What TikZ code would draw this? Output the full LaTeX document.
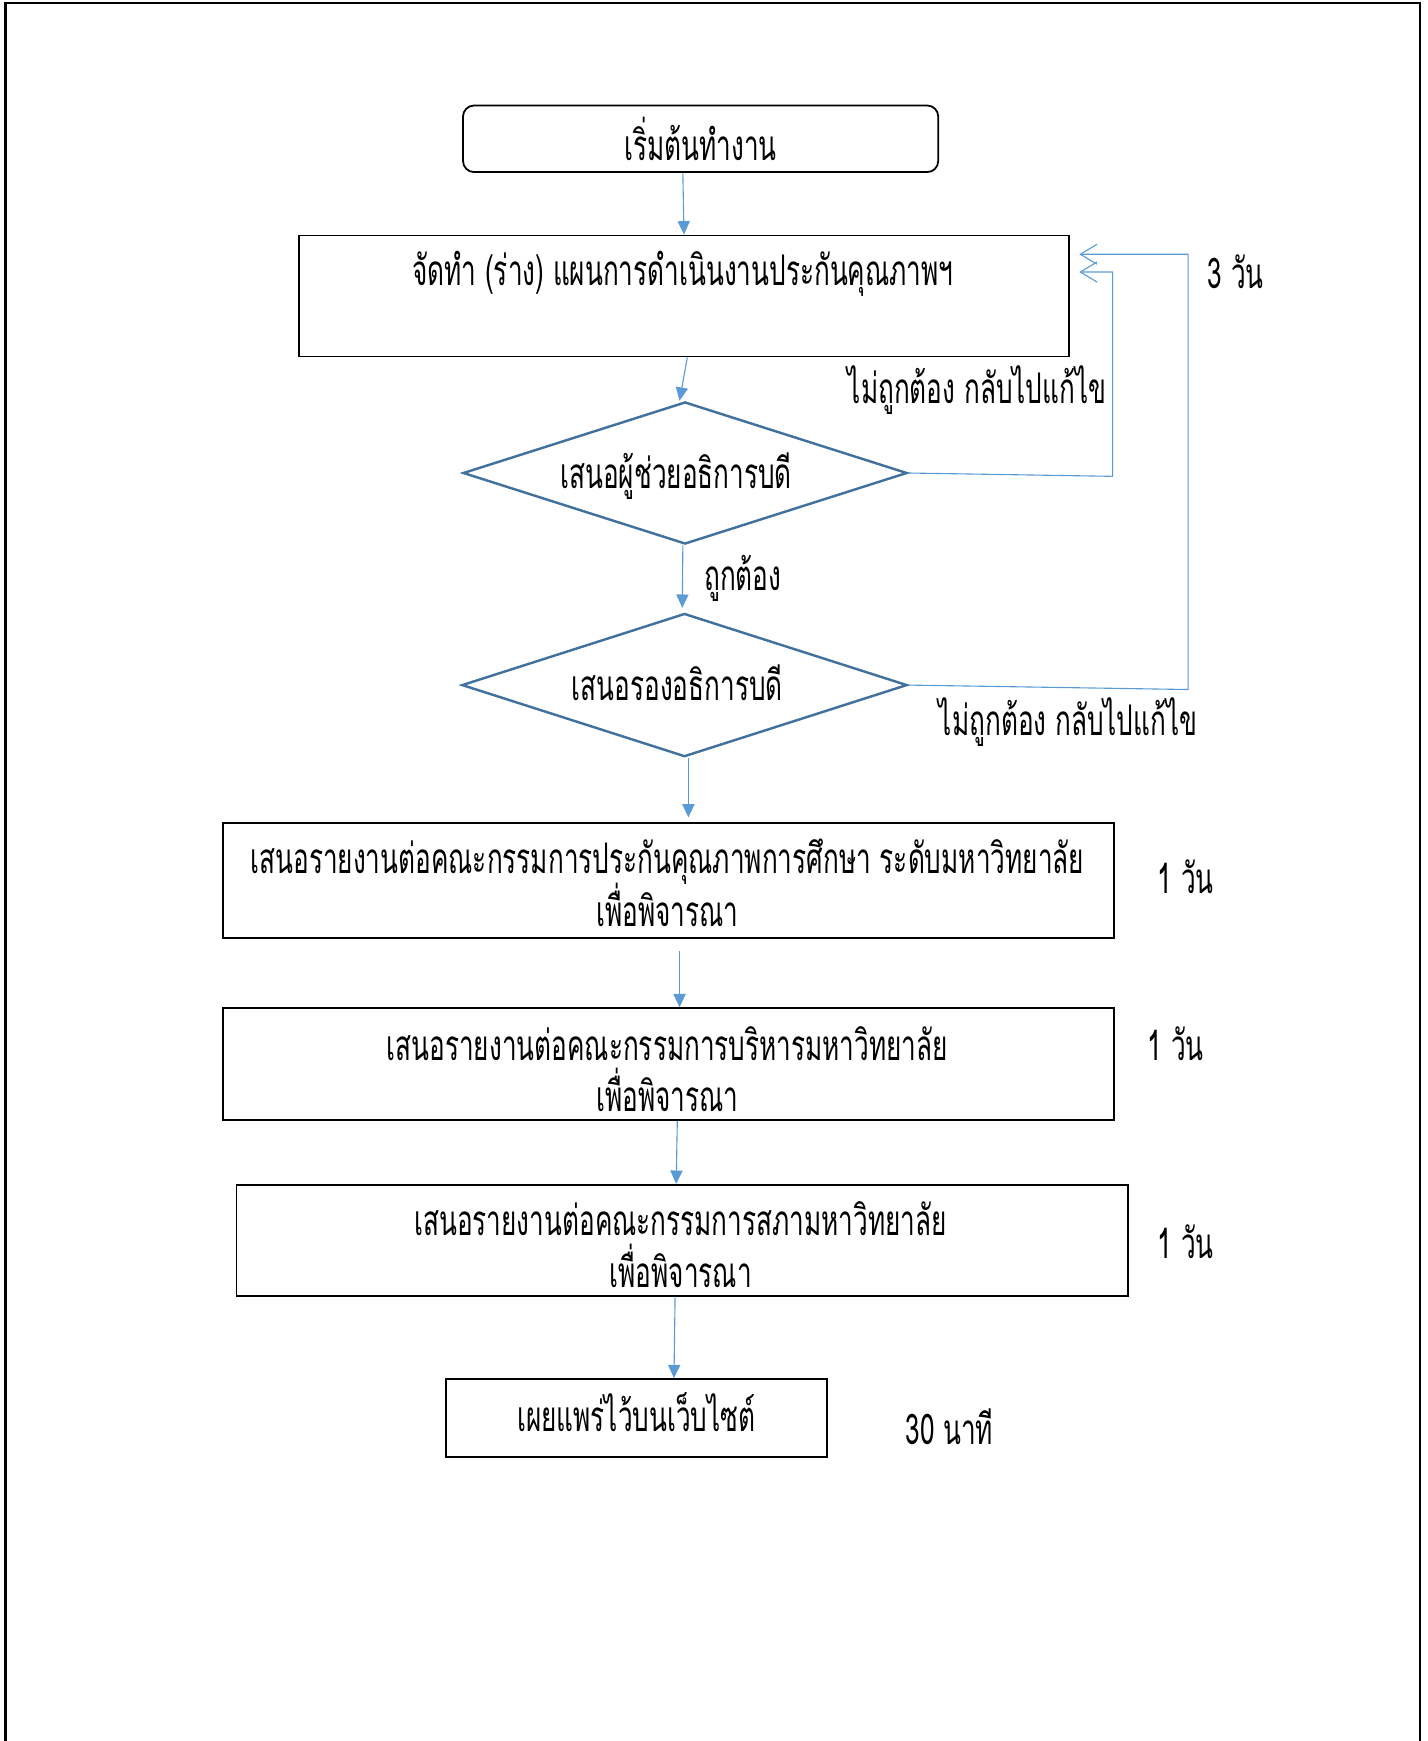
\documentclass[tikz,border=0pt]{standalone}
\usepackage{fontspec}
\newfontfamily\thaifont[Script=Thai,FakeStretch=0.62]{Loma}
\usetikzlibrary{arrows.meta,shapes.geometric}

\definecolor{linkblue}{RGB}{91,155,213}
\definecolor{edgeblue}{RGB}{65,113,156}

\tikzset{
	box/.style={draw=black, line width=1.6pt, inner sep=0pt},
	choice/.style={diamond, draw=edgeblue, line width=2.2pt, inner sep=0pt},
	flow/.style={draw=linkblue, line width=1pt, -{Triangle[length=12pt,width=11pt]}},
	back/.style={draw=linkblue, line width=1pt, -{Straight Barb[length=15pt,width=18pt]}},
	txt/.style={font=\thaifont\fontsize{38}{46}\selectfont, align=center, inner sep=0pt},
}

\begin{document}
\begin{tikzpicture}[x=1pt,y=-1pt]
	\useasboundingbox (0,0) rectangle (1286,1568);
	% page frame
	\draw[line width=2pt] (5,1600) -- (5,3) -- (1279,3) -- (1279,1600);

	% boxes
	\node[box, rounded corners=10pt, minimum width=428pt, minimum height=60pt] (start) at (631,125) {};
	\node[txt] at (631,125) {เริ่มต้นทำงาน};
	\node[box, minimum width=694pt, minimum height=109pt] (plan) at (616,266.5) {};
	\node[txt] at (615,247) {จัดทำ (ร่าง) แผนการดำเนินงานประกันคุณภาพฯ};
	\node[choice, minimum width=400pt, minimum height=128pt] (asst) at (617,426) {};
	\node[txt] at (609,429) {เสนอผู้ช่วยอธิการบดี};
	\node[choice, minimum width=401pt, minimum height=129pt] (vice) at (616.5,617) {};
	\node[txt] at (610,615) {เสนอรองอธิการบดี};
	\node[box, minimum width=802pt, minimum height=104pt] (qa) at (602,793) {};
	\node[txt] at (601,795) {เสนอรายงานต่อคณะกรรมการประกันคุณภาพการศึกษา ระดับมหาวิทยาลัย\\[-3pt]เพื่อพิจารณา};
	\node[box, minimum width=802pt, minimum height=101pt] (exec) at (602,958.5) {};
	\node[txt] at (601,963) {เสนอรายงานต่อคณะกรรมการบริหารมหาวิทยาลัย\\เพื่อพิจารณา};
	\node[box, minimum width=803pt, minimum height=100pt] (council) at (614.5,1117) {};
	\node[txt] at (613,1121) {เสนอรายงานต่อคณะกรรมการสภามหาวิทยาลัย\\เพื่อพิจารณา};
	\node[box, minimum width=343pt, minimum height=70pt] (web) at (573.5,1277) {};
	\node[txt] at (573,1272) {เผยแพร่ไว้บนเว็บไซต์};

	% time labels
	\node[txt] (t1) at (1113,245) {3 วัน};
	\node[txt] (t2) at (1068,790) {1 วัน};
	\node[txt] (t3) at (1059,940) {1 วัน};
	\node[txt] (t4) at (1068,1118) {1 วัน};
	\node[txt] (t5) at (855,1285) {30 นาที};

	% arrows
	\draw[flow] ([xshift=-16pt]start.south) -- (plan.north);
	\draw[flow] ([xshift=3pt]plan.south) -- ([xshift=-5pt]asst.north);
	\draw[flow] ([xshift=-2pt]asst.south) -- ([xshift=-2pt,yshift=4pt]vice.north);
	\node[txt] at (669,521) {ถูกต้อง};
	\draw[flow] ([xshift=3.5pt]vice.south) -- ([xshift=18pt,yshift=4pt]qa.north);
	\draw[flow] ([xshift=10pt,yshift=-11pt]qa.south) -- ([xshift=10pt]exec.north);
	\draw[flow] ([xshift=8pt]exec.south) -- ([xshift=-5.5pt]council.north);
	\draw[flow] ([xshift=-6.5pt]council.south) -- ([xshift=33.5pt]web.north);

	% back loops
	\coordinate (tipa) at (972,245);
	\coordinate (tipb) at (972,229);
	\draw[back] (asst.east) -- (1002,429) -- (1002,245) -- (tipa);
	\node[txt] at (880,351) {ไม่ถูกต้อง กลับไปแก้ไข};
	\draw[back] (vice.east) -- (1070,621) -- (1070,229) -- (tipb);
	\node[txt] at (962,650) {ไม่ถูกต้อง กลับไปแก้ไข};
\end{tikzpicture}
\end{document}
